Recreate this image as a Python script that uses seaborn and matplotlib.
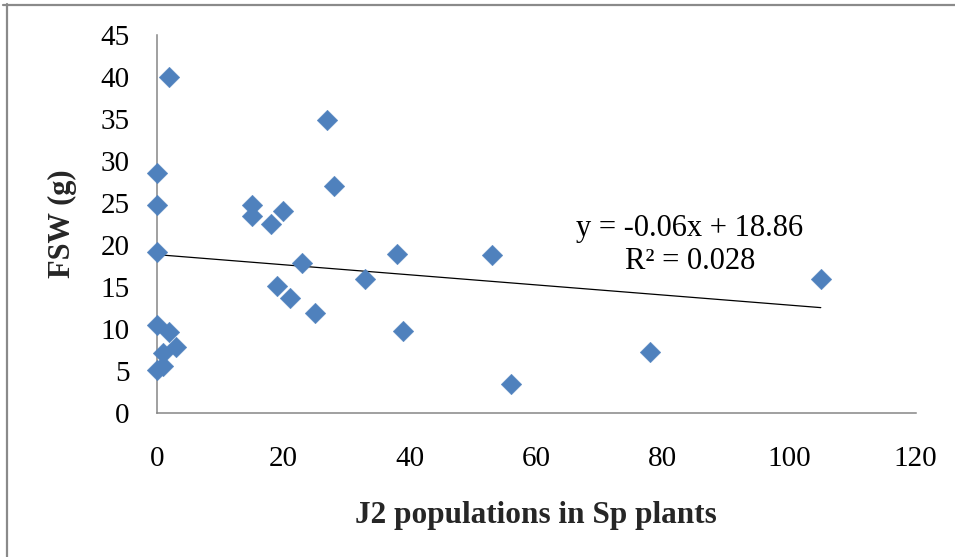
import numpy as np
import pandas as pd
import matplotlib
matplotlib.use("Agg")
import matplotlib.pyplot as plt
from matplotlib.lines import Line2D
import seaborn as sns

# ---- data ----
j2_population = [2, 27, 0, 28, 0, 15, 20, 15, 18, 0, 23, 33, 19, 21, 25,
                 0, 2, 3, 1, 1, 0, 38, 53, 39, 56, 105, 78]
fsw_g = [40, 34.9, 28.6, 27, 24.8, 24.8, 24.1, 23.4, 22.5, 19.2, 17.9, 16,
         15.1, 13.7, 11.9, 10.5, 9.7, 7.9, 7.2, 5.6, 5.1, 18.9, 18.8, 9.8,
         3.5, 16, 7.3]
trend_slope = -0.06
trend_intercept = 18.86
trend_x = [0, 105]
x_ticks = [0, 20, 40, 60, 80, 100, 120]
y_ticks = [0, 5, 10, 15, 20, 25, 30, 35, 40, 45]
equation_lines = ["y = -0.06x + 18.86", "R\u00b2 = 0.028"]
x_label = "J2 populations in Sp plants"
y_label = "FSW (g)"

df = pd.DataFrame({"x": j2_population, "y": fsw_g})
trend_df = pd.DataFrame({"x": trend_x,
                         "y": [trend_intercept + trend_slope * v for v in trend_x]})

sns.set_theme(style="white")
plt.rcParams["font.family"] = ["Liberation Serif", "DejaVu Serif"]

fig = plt.figure(figsize=(9.55, 5.57), dpi=100)
ax = fig.add_axes([0.1641, 0.258, 0.7947, 0.6797])

sns.lineplot(data=trend_df, x="x", y="y", ax=ax, color="black", linewidth=0.9)
sns.scatterplot(data=df, x="x", y="y", ax=ax, marker="D", s=110,
                color="#4F81BD", edgecolor="#4F81BD", linewidth=0.3,
                clip_on=False, zorder=3)

ax.set_xlim(0, 120)
ax.set_ylim(0, 45)
ax.set_xticks(x_ticks)
ax.set_yticks(y_ticks)

for side in ["top", "right"]:
    ax.spines[side].set_visible(False)
for side in ["left", "bottom"]:
    ax.spines[side].set_color("#868686")
    ax.spines[side].set_linewidth(1.1)

ax.tick_params(axis="both", direction="out", length=6.5, width=1.1,
               color="#868686", labelsize=21, labelcolor="black")
ax.tick_params(axis="y", pad=13)
ax.tick_params(axis="x", pad=17)

ax.set_xlabel(x_label, fontsize=22.5, fontweight="bold", va="center")
ax.xaxis.set_label_coords(0.5, -0.271)
ax.set_ylabel(y_label, fontsize=22, fontweight="bold", va="center")
ax.yaxis.set_label_coords(-0.1248, 0.5)

ax.text(84.3, 20.0, "\n".join(equation_lines), fontsize=22, ha="center",
        va="center", linespacing=1.15, color="black")

# outer chart frame (top and left edges visible)
fig.add_artist(Line2D([3 / 955, 1], [1 - 4.5 / 557, 1 - 4.5 / 557],
                      transform=fig.transFigure, color="#8a8a8a", linewidth=1.6))
fig.add_artist(Line2D([7 / 955, 7 / 955], [0, 1 - 3.5 / 557],
                      transform=fig.transFigure, color="#8a8a8a", linewidth=1.6))

fig.savefig("out.png", dpi=100, facecolor="white")
